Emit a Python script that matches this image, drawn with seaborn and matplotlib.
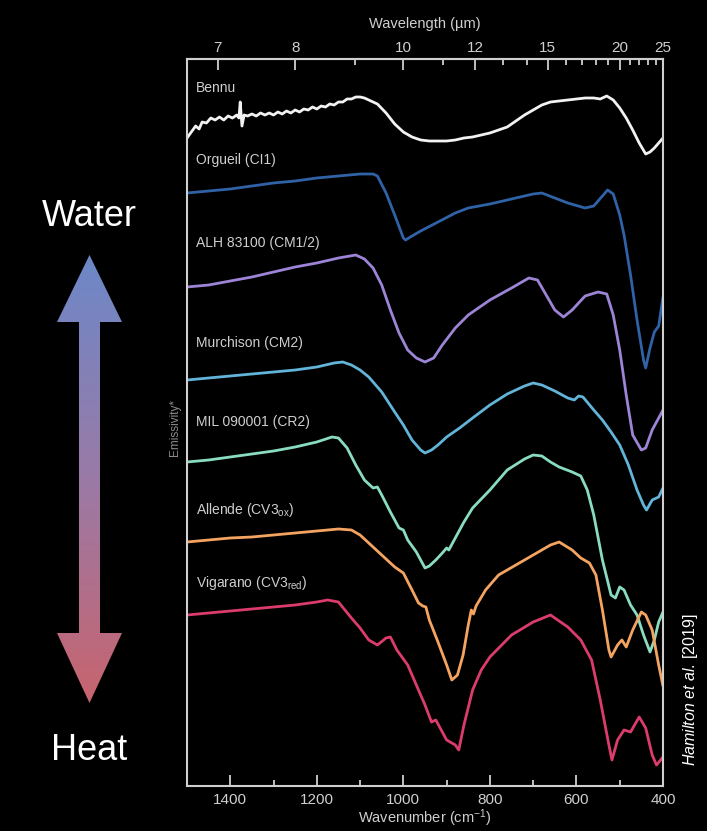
import numpy as np
import pandas as pd
import matplotlib
matplotlib.use("Agg")
import matplotlib.pyplot as plt
import seaborn as sns
from matplotlib import font_manager
from matplotlib.colors import LinearSegmentedColormap
from matplotlib.patches import Polygon

# === DATOS (emisividad apilada, unidades arbitrarias) ===
samples = ["Bennu", "Orgueil (CI1)", "ALH 83100 (CM1/2)", "Murchison (CM2)",
           "MIL 090001 (CR2)", "Allende (CV3$_{\\mathregular{ox}}$)",
           "Vigarano (CV3$_{\\mathregular{red}}$)"]

bennu_wn = [1500, 1490, 1480, 1472, 1465, 1455, 1445, 1435, 1425, 1415, 1405, 1395, 1385, 1380,
            1377, 1373, 1368, 1360, 1350, 1340, 1330, 1320, 1310, 1300, 1290, 1280, 1270, 1260,
            1250, 1240, 1230, 1220, 1210, 1200, 1190, 1180, 1170, 1160, 1150, 1140, 1130, 1120,
            1110, 1100, 1090, 1080, 1060, 1040, 1020, 1000, 980, 960, 940, 920, 900, 880, 860,
            840, 820, 800, 780, 760, 740, 720, 700, 680, 660, 640, 620, 600, 580, 560, 545, 530,
            515, 500, 485, 470, 455, 440, 430, 420, 410, 400]
bennu_em = [6.48, 6.54, 6.60, 6.57, 6.64, 6.63, 6.68, 6.66, 6.69, 6.66, 6.70, 6.68, 6.71, 6.68,
            6.84, 6.60, 6.71, 6.70, 6.72, 6.70, 6.73, 6.71, 6.73, 6.71, 6.74, 6.72, 6.75, 6.73,
            6.76, 6.74, 6.77, 6.76, 6.79, 6.77, 6.80, 6.79, 6.82, 6.81, 6.84, 6.84, 6.87, 6.87,
            6.89, 6.89, 6.88, 6.86, 6.82, 6.73, 6.62, 6.54, 6.49, 6.46, 6.45, 6.45, 6.45, 6.46,
            6.48, 6.49, 6.51, 6.53, 6.56, 6.59, 6.65, 6.71, 6.76, 6.81, 6.84, 6.85, 6.86, 6.87,
            6.88, 6.88, 6.87, 6.90, 6.86, 6.78, 6.68, 6.56, 6.43, 6.32, 6.34, 6.38, 6.43, 6.48]

orgueil_wn = [1500, 1450, 1400, 1350, 1300, 1250, 1200, 1150, 1100, 1070, 1060, 1040, 1020, 1000,
              995, 980, 960, 920, 880, 850, 800, 750, 700, 680, 650, 620, 580, 560, 540, 528, 515,
              500, 490, 475, 460, 445, 440, 430, 420, 410, 400]
orgueil_em = [5.93, 5.95, 5.97, 6.00, 6.03, 6.05, 6.08, 6.10, 6.12, 6.12, 6.10, 5.93, 5.71, 5.48,
              5.46, 5.50, 5.55, 5.64, 5.73, 5.78, 5.82, 5.87, 5.92, 5.93, 5.88, 5.83, 5.78, 5.80,
              5.90, 5.96, 5.92, 5.71, 5.51, 5.11, 4.66, 4.26, 4.18, 4.38, 4.54, 4.60, 4.89]

alh_wn = [1500, 1450, 1400, 1350, 1300, 1250, 1200, 1150, 1110, 1090, 1070, 1050, 1030, 1010, 990,
          970, 950, 930, 910, 880, 850, 800, 750, 710, 690, 670, 650, 630, 610, 580, 550, 530, 515,
          500, 485, 470, 450, 440, 425, 410, 400]
alh_em = [4.99, 5.01, 5.05, 5.09, 5.14, 5.19, 5.23, 5.28, 5.31, 5.27, 5.18, 5.01, 4.76, 4.53, 4.36,
          4.28, 4.24, 4.28, 4.41, 4.58, 4.71, 4.86, 4.98, 5.08, 5.06, 4.91, 4.76, 4.69, 4.76, 4.90,
          4.94, 4.92, 4.71, 4.36, 3.91, 3.51, 3.36, 3.38, 3.56, 3.68, 3.76]

murch_wn = [1500, 1450, 1400, 1350, 1300, 1250, 1200, 1160, 1140, 1120, 1100, 1080, 1050, 1020,
            1000, 980, 960, 950, 935, 920, 900, 870, 840, 800, 760, 720, 700, 680, 650, 620, 605,
            595, 585, 560, 540, 520, 500, 480, 460, 445, 438, 425, 410, 400]
murch_em = [4.06, 4.08, 4.10, 4.12, 4.14, 4.16, 4.19, 4.23, 4.24, 4.21, 4.16, 4.09, 3.94, 3.74,
            3.61, 3.46, 3.36, 3.33, 3.36, 3.41, 3.49, 3.58, 3.68, 3.81, 3.92, 4.00, 4.03, 4.01,
            3.95, 3.88, 3.86, 3.90, 3.89, 3.76, 3.66, 3.54, 3.41, 3.21, 2.96, 2.81, 2.76, 2.86,
            2.89, 2.98]

mil_wn = [1500, 1450, 1400, 1350, 1300, 1250, 1200, 1165, 1150, 1130, 1110, 1090, 1070, 1060, 1050,
          1030, 1010, 1000, 990, 970, 950, 940, 925, 910, 900, 895, 880, 860, 840, 800, 760, 720,
          700, 680, 660, 640, 610, 590, 575, 560, 540, 520, 510, 500, 490, 475, 460, 445, 430, 420,
          410, 400]
mil_em = [3.24, 3.26, 3.29, 3.32, 3.35, 3.39, 3.44, 3.49, 3.48, 3.38, 3.21, 3.06, 2.98, 2.99, 2.91,
          2.74, 2.58, 2.56, 2.46, 2.34, 2.18, 2.20, 2.26, 2.33, 2.38, 2.36, 2.48, 2.64, 2.78, 2.96,
          3.16, 3.27, 3.31, 3.30, 3.24, 3.19, 3.14, 3.10, 2.96, 2.71, 2.26, 1.91, 1.88, 1.99, 1.96,
          1.81, 1.71, 1.51, 1.34, 1.46, 1.64, 1.74]

allende_wn = [1500, 1450, 1400, 1350, 1300, 1250, 1200, 1150, 1120, 1100, 1080, 1050, 1020, 1000,
              980, 965, 955, 948, 940, 920, 900, 888, 875, 862, 850, 843, 838, 832, 810, 780, 740,
              700, 660, 640, 610, 590, 570, 555, 540, 525, 520, 505, 495, 485, 470, 450, 440, 425,
              410, 400]
allende_em = [2.44, 2.46, 2.48, 2.49, 2.51, 2.53, 2.55, 2.57, 2.56, 2.51, 2.43, 2.31, 2.19, 2.13,
              1.96, 1.83, 1.80, 1.79, 1.66, 1.44, 1.21, 1.06, 1.11, 1.31, 1.61, 1.76, 1.72, 1.80,
              1.96, 2.11, 2.21, 2.31, 2.41, 2.44, 2.36, 2.28, 2.23, 2.11, 1.76, 1.36, 1.29, 1.41,
              1.46, 1.39, 1.56, 1.74, 1.71, 1.56, 1.21, 1.00]

vig_wn = [1500, 1450, 1400, 1350, 1300, 1250, 1200, 1175, 1150, 1120, 1100, 1080, 1060, 1040, 1030,
          1015, 990, 970, 950, 935, 925, 900, 880, 872, 860, 840, 820, 800, 750, 700, 660, 620, 590,
          565, 545, 525, 518, 505, 490, 475, 455, 440, 425, 415, 400]
vig_em = [1.71, 1.73, 1.75, 1.77, 1.79, 1.81, 1.84, 1.86, 1.84, 1.68, 1.58, 1.46, 1.41, 1.48, 1.49,
          1.36, 1.21, 1.01, 0.81, 0.64, 0.66, 0.46, 0.41, 0.36, 0.61, 0.96, 1.16, 1.29, 1.51, 1.64,
          1.71, 1.59, 1.46, 1.26, 0.86, 0.41, 0.26, 0.46, 0.56, 0.54, 0.69, 0.58, 0.31, 0.21, 0.29]

# posicion vertical de cada etiqueta (mismas unidades)
label_y = [6.98, 6.26, 5.43, 4.43, 3.64, 2.76, 2.03]

wavenumber_ticks = [1400, 1200, 1000, 800, 600, 400]
wavenumber_minor = [1300, 1100, 900, 700, 500]
wavelength_ticks = [7, 8, 10, 12, 15, 20, 25]
wavelength_minor = [9, 11, 13, 14, 16, 17, 18, 19, 21, 22, 23, 24]

colores = ["#f2f2f2", "#2f62a6", "#9d84d6", "#62b4d8", "#8adcc0", "#f4a460", "#dc3c6c"]

# === TABLA LARGA PARA SEABORN ===
series = [(bennu_wn, bennu_em), (orgueil_wn, orgueil_em), (alh_wn, alh_em), (murch_wn, murch_em),
          (mil_wn, mil_em), (allende_wn, allende_em), (vig_wn, vig_em)]
frames = []
for nombre, (wn, em) in zip(samples, series):
    frames.append(pd.DataFrame({"muestra": nombre, "wavenumber": wn, "emisividad": em}))
df = pd.concat(frames, ignore_index=True)

# === ESTILO ===
sns.set_style("ticks")
nombres = {f.name for f in font_manager.fontManager.ttflist}
narrow = "Liberation Sans Narrow" if "Liberation Sans Narrow" in nombres else "Liberation Sans"
plt.rcParams["font.family"] = [narrow, "DejaVu Sans"]
plt.rcParams["mathtext.fontset"] = "custom"
plt.rcParams["mathtext.rm"] = narrow
plt.rcParams["mathtext.it"] = "Liberation Sans:italic"
gris = "#cfcfcf"

fig = plt.figure(figsize=(7.07, 8.31), dpi=100, facecolor="black")

# flecha Water / Heat (capa de fondo en pixeles)
bg = fig.add_axes([0, 0, 1, 1])
bg.set_xlim(0, 707)
bg.set_ylim(831, 0)
bg.axis("off")
cmap = LinearSegmentedColormap.from_list("agua_calor", ["#6c88c8", "#9a7aa6", "#c8646e"])
grad = np.linspace(0, 1, 256).reshape(-1, 1)
img = bg.imshow(grad, extent=[57, 122, 703, 255], cmap=cmap, aspect="auto", zorder=1)
flecha = Polygon([(89.5, 255), (122, 322), (100, 322), (100, 633), (122, 633), (89.5, 703),
                  (57, 633), (79, 633), (79, 322), (57, 322)], closed=True,
                 facecolor="none", edgecolor="none", transform=bg.transData)
bg.add_patch(flecha)
img.set_clip_path(flecha)
bg.text(89, 217, "Water", color="white", fontsize=26, ha="center", va="center",
        family=["Liberation Sans", "DejaVu Sans"])
bg.text(89, 750, "Heat", color="white", fontsize=26, ha="center", va="center",
        family=["Liberation Sans", "DejaVu Sans"])
bg.text(175, 428, "Emissivity*", color="#8c8c8c", fontsize=8.5, rotation=90,
        ha="center", va="center")
bg.text(690, 690, "$\\mathit{Hamilton\\ et\\ al.}\\,$[2019]", color="white", fontsize=11.5,
        rotation=90, ha="center", va="center", family=["Liberation Sans", "DejaVu Sans"])

# === GRAFICO PRINCIPAL ===
ax = fig.add_axes([187 / 707, 1 - 786 / 831, (663 - 187) / 707, (786 - 59) / 831])
ax.set_facecolor("black")
ax.patch.set_alpha(0)
sns.lineplot(data=df, x="wavenumber", y="emisividad", hue="muestra", hue_order=samples,
             palette=dict(zip(samples, colores)), estimator=None, legend=False,
             lw=2.0, ax=ax)

for nombre, yy in zip(samples, label_y):
    ax.text(1479, yy, nombre, color=gris, fontsize=10, ha="left", va="center")

ax.set_xlim(1500, 400)
ax.set_ylim(0, 7.27)
ax.set_yticks([])
ax.set_xticks(wavenumber_ticks)
ax.set_xticks(wavenumber_minor, minor=True)
ax.set_xlabel("Wavenumber (cm$^{-1}$)", color=gris, fontsize=10.5, labelpad=0)
ax.set_ylabel("")
ax.tick_params(axis="x", which="major", direction="in", length=8, width=1.3, colors=gris,
               labelsize=11, pad=5)
ax.tick_params(axis="x", which="minor", direction="in", length=4, width=1.3, colors=gris)
for s in ax.spines.values():
    s.set_visible(True)
    s.set_color(gris)
    s.set_linewidth(1.5)

def wn_a_um(x):
    x = np.asarray(x, dtype=float)
    return 1e4 / np.where(x == 0, 1e-9, x)

sec = ax.secondary_xaxis("top", functions=(wn_a_um, wn_a_um))
sec.set_xticks(wavelength_ticks)
sec.set_xticks(wavelength_minor, minor=True)
sec.set_xticklabels([str(t) for t in wavelength_ticks])
sec.tick_params(axis="x", which="major", direction="in", length=8, width=1.3, colors=gris,
                labelsize=11, pad=3)
sec.tick_params(axis="x", which="minor", direction="in", length=4, width=1.3, colors=gris)
sec.spines["top"].set_color(gris)
sec.spines["top"].set_linewidth(1.5)
sec.set_xlabel("Wavelength (µm)", color=gris, fontsize=10.5, labelpad=9)

fig.savefig("out.png", dpi=100, facecolor="black")
